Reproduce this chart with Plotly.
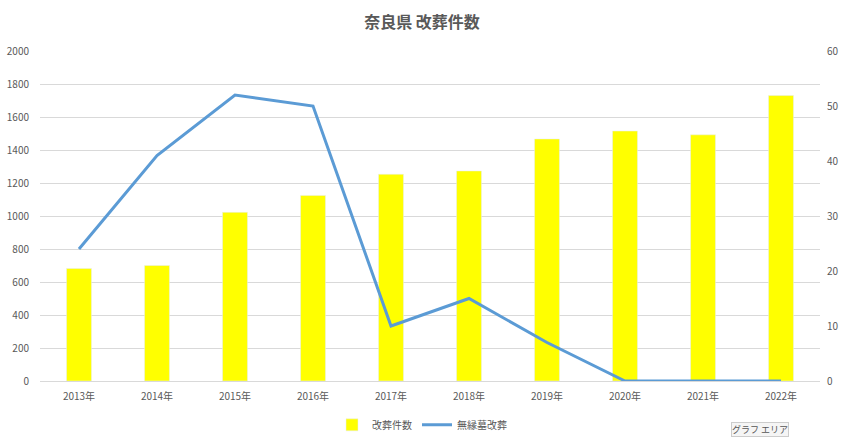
import plotly.graph_objects as go

years = ["2013年", "2014年", "2015年", "2016年", "2017年", "2018年", "2019年", "2020年", "2021年", "2022年"]
kaisou = [682, 700, 1022, 1125, 1253, 1273, 1467, 1515, 1492, 1730]
muen = [24, 41, 52, 50, 10, 15, 7, 0, 0, 0]

FONT = "Noto Sans CJK JP"
GRAY = "#595959"

fig = go.Figure()
fig.add_trace(go.Bar(x=years, y=kaisou, name="改葬件数", marker_color="#ffff00",
                     width=0.32, yaxis="y"))
fig.add_trace(go.Scatter(x=years, y=muen, name="無縁墓改葬", mode="lines",
                         line=dict(color="#5b9bd5", width=3), yaxis="y2"))

fig.update_layout(
    width=844, height=438,
    margin=dict(l=40, r=24, t=51, b=57, autoexpand=False),
    paper_bgcolor="white", plot_bgcolor="white",
    font=dict(family=FONT, size=10, color=GRAY),
    title=dict(text="<b>奈良県 改葬件数</b>", x=0.5, xanchor="center", y=0.95, yanchor="middle",
               font=dict(family=FONT, size=16, color=GRAY)),
    xaxis=dict(showgrid=False, showline=True, linecolor="#d9d9d9", ticks="",
               tickfont=dict(size=10, color=GRAY), ticklabelstandoff=6),
    yaxis=dict(range=[0, 2000], dtick=200, showgrid=True, gridcolor="#d9d9d9",
               zeroline=False, tickfont=dict(size=10, color=GRAY), ticklabelstandoff=10),
    yaxis2=dict(range=[0, 60], dtick=10, overlaying="y", side="right", showgrid=False,
                zeroline=False, tickfont=dict(size=10, color=GRAY), ticklabelstandoff=6),
    legend=dict(orientation="h", x=0.5, xanchor="center", xref="container",
                y=0.03, yanchor="middle", yref="container",
                font=dict(size=10, color=GRAY)),
    showlegend=True,
)
fig.add_annotation(text="グラフ エリア", xref="paper", yref="paper", x=0.923, y=-0.148,
                   xanchor="center", yanchor="middle", showarrow=False,
                   font=dict(size=9, color="#555555"), bgcolor="#f5f5f5",
                   bordercolor="#cccccc", borderwidth=1, borderpad=0)
fig.write_html("out.html")
